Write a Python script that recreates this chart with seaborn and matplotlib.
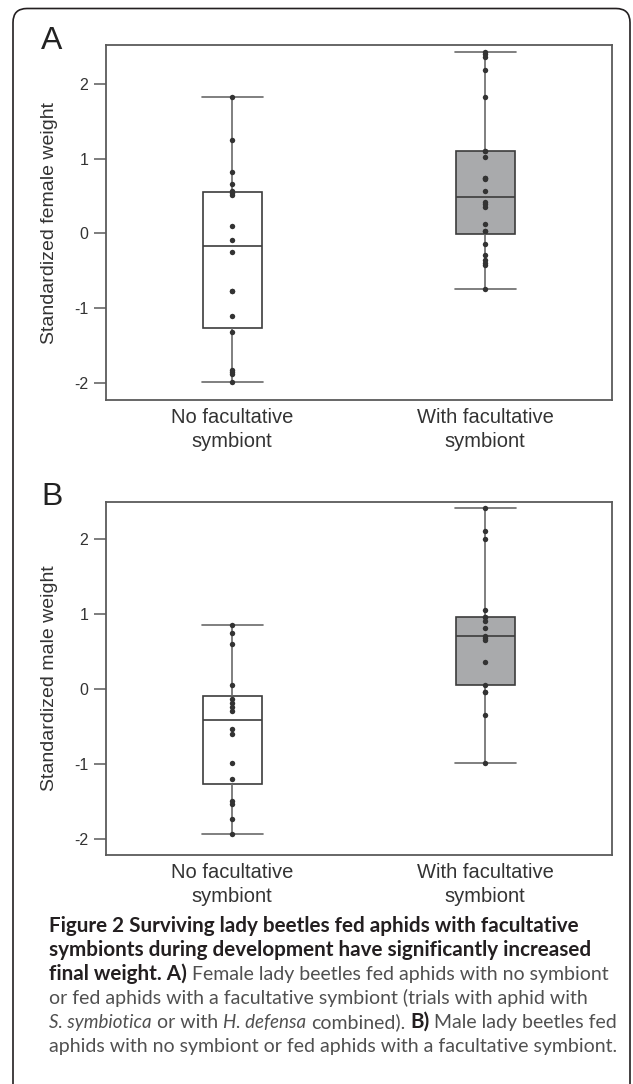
import numpy as np
import pandas as pd
import matplotlib
matplotlib.use("Agg")
import matplotlib.pyplot as plt
import seaborn as sns
from matplotlib.patches import FancyBboxPatch

# ---------------------------------------------------------
# data (standardized weights)
# ---------------------------------------------------------
groups = ["No facultative\nsymbiont", "With facultative\nsymbiont"]

female_none = [1.82, 1.25, 0.82, 0.655, 0.566, 0.54, 0.512, 0.094, -0.09, -0.254,
               -0.776, -0.776, -1.106, -1.316, -1.83, -1.86, -1.88, -1.99]
female_with = [2.42, 2.40, 2.355, 2.185, 1.82, 1.105, 1.105, 1.02, 0.744, 0.744,
               0.73, 0.566, 0.419, 0.388, 0.356, 0.124, 0.027, 0.027, -0.143,
               -0.286, -0.361, -0.393, -0.42, -0.741]
male_none = [0.856, 0.753, 0.606, 0.053, -0.138, -0.191, -0.245, -0.29, -0.539,
             -0.597, -0.994, -1.199, -1.497, -1.542, -1.742, -1.934]
male_with = [2.424, 2.108, 2.01, 1.06, 0.963, 0.963, 0.909, 0.811, 0.713, 0.686,
             0.655, 0.357, 0.058, -0.04, -0.04, -0.343, -0.994]

y_ticks = [-2, -1, 0, 1, 2]
y_ticklabels = ["-2", "-1", "0", "1", "2"]

box_colors = {groups[0]: "#ffffff", groups[1]: "#a9aaac"}

# ---------------------------------------------------------
# figure setup
# ---------------------------------------------------------
sns.set_style("white")
plt.rcParams["font.family"] = ["Liberation Sans", "DejaVu Sans"]
plt.rcParams["axes.unicode_minus"] = False

W, H = 633, 1084
fig = plt.figure(figsize=(W / 100, H / 100), dpi=100)

def px_axes(left, top, right, bottom):
    return fig.add_axes([left / W, 1 - bottom / H, (right - left) / W, (bottom - top) / H])

def panel(ax, none_vals, with_vals, ylabel, ylim):
    df = pd.DataFrame({
        "group": [groups[0]] * len(none_vals) + [groups[1]] * len(with_vals),
        "value": none_vals + with_vals,
    })
    sns.boxplot(data=df, x="group", y="value", hue="group", order=groups,
                hue_order=groups, palette=box_colors, width=0.233, whis=(0, 100),
                showfliers=False, linecolor="#3c3c3c", linewidth=1.2, legend=False,
                capwidths=0.24,
                whiskerprops=dict(color="#6a6a6a", linewidth=1.2),
                capprops=dict(color="#6a6a6a", linewidth=1.2),
                ax=ax)
    sns.stripplot(data=df, x="group", y="value", order=groups, jitter=False,
                  color="#333333", size=3.9, linewidth=0, ax=ax, zorder=5)
    ax.set_xlim(-0.5, 1.5)
    ax.set_ylim(*ylim)
    ax.set_yticks(y_ticks)
    ax.set_yticklabels(y_ticklabels)
    for sp in ax.spines.values():
        sp.set_visible(True)
        sp.set_color("#5a5a5a")
        sp.set_linewidth(1.3)
    ax.tick_params(axis="y", left=True, length=8.4, width=1.1, color="#5a5a5a",
                   pad=4, labelsize=11.5, labelcolor="#333333")
    ax.tick_params(axis="x", bottom=False, length=0, pad=6, labelsize=14.5,
                   labelcolor="#333333")
    for lbl in ax.get_xticklabels():
        lbl.set_linespacing(1.32)
    ax.set_xlabel("")
    ax.set_ylabel(ylabel, fontsize=14, color="#333333")
    ax.yaxis.set_label_coords(-0.094, 0.5)

ax_a = px_axes(105.7, 45, 611.7, 400)
panel(ax_a, female_none, female_with, "Standardized female weight", (-2.23, 2.52))
ax_b = px_axes(105.7, 502, 611.7, 855)
panel(ax_b, male_none, male_with, "Standardized male weight", (-2.22, 2.50))

fig.text(52 / W, 1 - 41 / H, "A", fontsize=23, color="#222222", ha="center", va="center")
fig.text(52 / W, 1 - 497 / H, "B", fontsize=23, color="#222222", ha="center", va="center")

# rounded frame around the figure (open at the bottom)
frame = FancyBboxPatch((13, -30), 617, H - 8.5 + 30,
                       boxstyle="round,pad=0,rounding_size=14",
                       transform=None, fill=False, ec="#231f20", lw=1.2)
fig.add_artist(frame)

# ---------------------------------------------------------
# caption with mixed bold / italic pieces
# ---------------------------------------------------------
renderer = fig.canvas.get_renderer()
cap_font = "Lato"
sizes = {"bold": 14.9, "normal": 14.0, "italic": 13.5}
dark = "#231f20"
grey = "#505050"

def text_w(s, **kw):
    t = fig.text(0, 0, s, fontsize=sizes["normal"], family=cap_font, **kw)
    w = t.get_window_extent(renderer).width
    t.remove()
    return w

space_w = text_w("n n") - text_w("nn")

def caption_line(y_px, parts, x0=49):
    x = x0
    for txt, weight, style in parts:
        col = dark if weight == "bold" else grey
        size = sizes["bold"] if weight == "bold" else sizes[style]
        t = fig.text(x / W, 1 - y_px / H, txt, fontsize=size, family=cap_font,
                     fontweight=weight, fontstyle=style, color=col,
                     ha="left", va="baseline")
        x += t.get_window_extent(renderer).width + space_w

B, N, I = ("bold", "normal"), ("normal", "normal"), ("normal", "italic")
caption = [
    [("Figure 2 Surviving lady beetles fed aphids with facultative", *B)],
    [("symbionts during development have significantly increased", *B)],
    [("final weight. A)", *B), ("Female lady beetles fed aphids with no symbiont", *N)],
    [("or fed aphids with a facultative symbiont (trials with aphid with", *N)],
    [("S. symbiotica", *I), ("or with", *N), ("H. defensa", *I), ("combined).", *N),
     ("B)", *B), ("Male lady beetles fed", *N)],
    [("aphids with no symbiont or fed aphids with a facultative symbiont.", *N)],
]
for i, parts in enumerate(caption):
    caption_line(932 + 24 * i, parts)

fig.savefig("out.png", dpi=100)
